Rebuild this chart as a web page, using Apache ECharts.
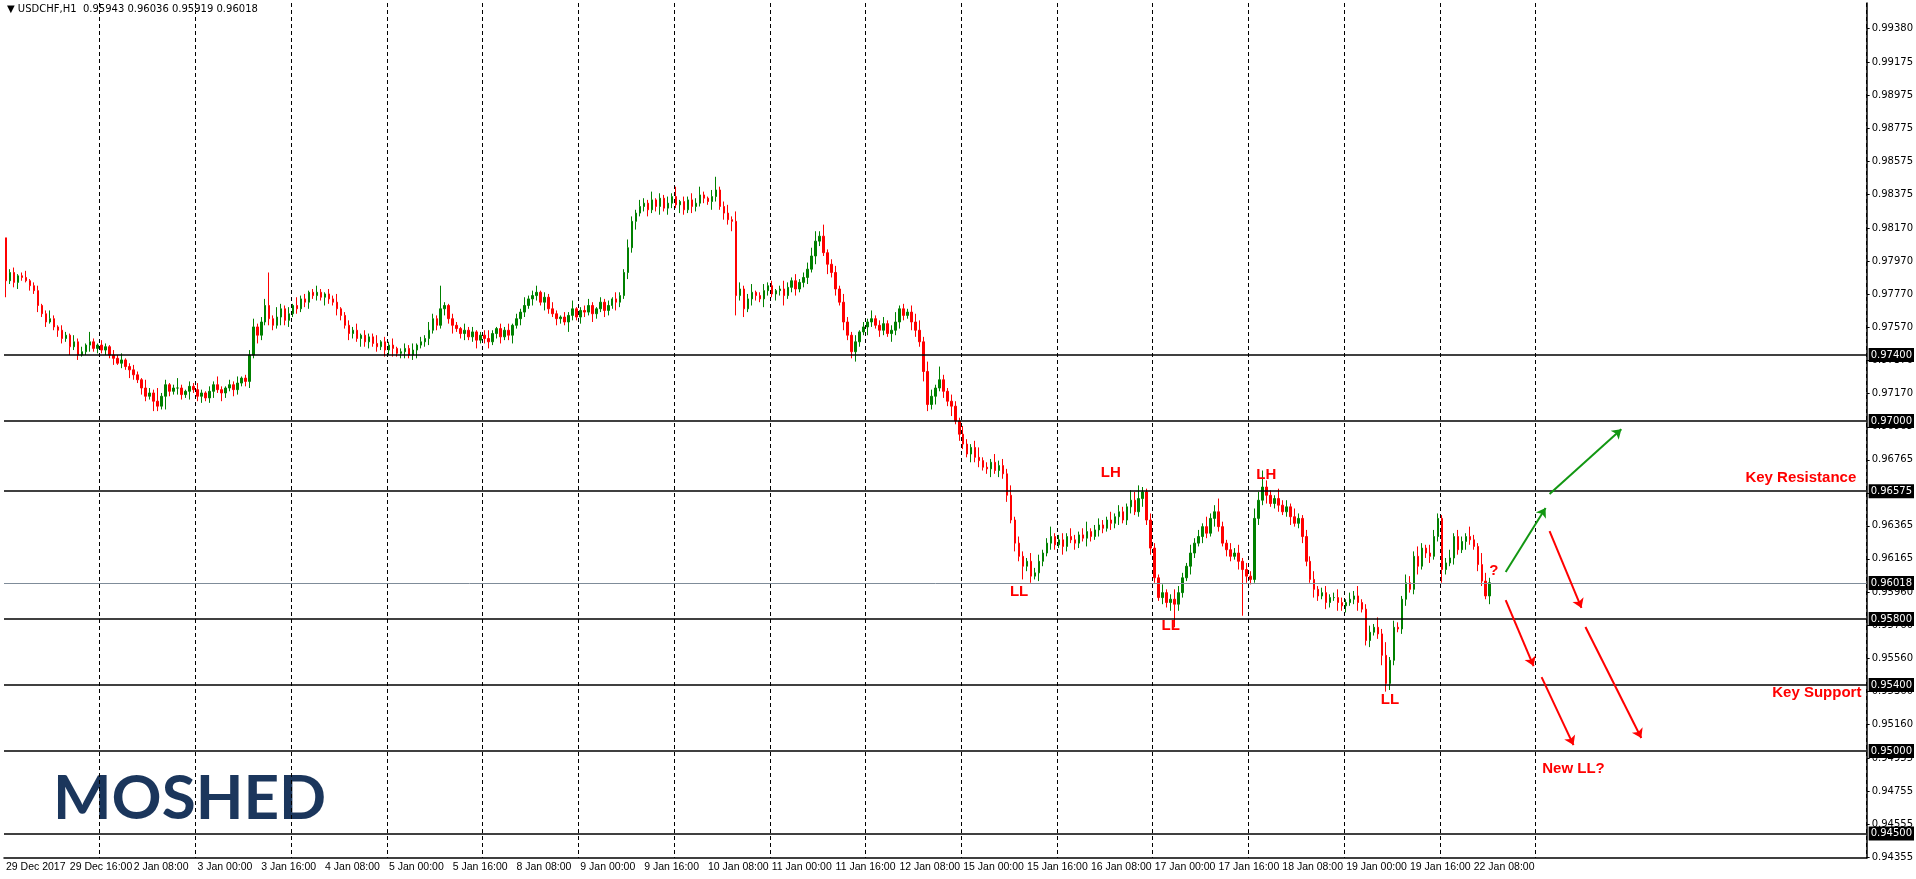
<!DOCTYPE html>
<html>
<head>
<meta charset="UTF-8">
<title>USDCHF H1</title>
<script src="https://cdn.jsdelivr.net/npm/echarts@6/dist/echarts.min.js"></script>
<style>
  html, body { margin: 0; padding: 0; background: #fff; }
  #chart { width: 1916px; height: 879px; }
</style>
</head>
<body>
<div id="chart"></div>
<script>
// closes in pips (0.0001), one per H1 candle
var firstOpen = 9811;
var closes = [
  9785,9790,9784,9788,9787,9785,9782, 9779,9770,9765,9760,9762,9757, 9755,9750,9752,9745,9748,9740,
  9742,9746,9748,9744,9746,9743,9745, 9740,9738,9735,9737,9733,9731, 9728,9725,9720,9715,9717,9712,
  9709,9715,9722,9718,9720,9720, 9716,9718,9721,9719,9715,9717, 9714,9718,9722,9719,9717,9720,
  9722,9719,9723,9726,9724,9740, 9757,9752,9760,9770,9762, 9758,9763,9768,9761,9765,
  9770,9768,9774,9772,9778,9776, 9778,9775,9777,9774,9772, 9768,9764,9758,9753,
  9755,9750,9752,9748,9751,9747, 9745,9748,9743,9746,9744,9741,9742, 9744,9740,9743,9746,9748,9750,
  9755,9762,9758,9768, 9770,9762,9758,9756,9753, 9755,9751,9754,9749,9752,9750,
  9748,9753,9756,9751,9755,9752, 9758,9762,9766,9770,9774,9776, 9778,9772,9775,9768,9765,9762,9763,
  9760,9764,9768,9763,9767,9766, 9770,9765,9768,9772,9767,9770, 9774,9772,9776,9790,9805,
  9821,9826,9830,9832, 9828,9834,9830,9835,9829,9832, 9836,9831,9833,9828,9834,9830,
  9832,9837,9835,9833,9836, 9840,9830,9826,9822,9821, 9776,9780,9768,9774,9778,9776,
  9774,9779,9782,9777,9779,9780, 9776,9781,9785,9780,9784,9787, 9792,9800,9809,9812,9802,9795,
  9790,9780,9772,9760,9752,9742, 9748,9754,9757, 9760,9762,9758,9755,9759,9753,9755,
  9760,9768,9764,9766, 9760,9755,9748,9730,9710, 9715,9720,9725,9718,9712,9709,
  9700,9692,9686, 9680,9684,9678,9676,9672,9671, 9675,9670,9673,9668, 9655,9640,9626,
  9618,9612,9615,9606,9608, 9615,9620,9626, 9630,9625,9628,9624,9630,9628,
  9626,9631,9629,9633,9630,9634, 9637,9635,9640,9638,9642,9645, 9640,9648,9652,9645,9653,
  9657,9640,9623, 9605,9593,9596,9590,9592,9589, 9596,9605,9612,9620,9626, 9630,9636,9632,9641,
  9645,9636,9626,9622,9618,9620, 9615,9610,9606,9604, 9641,9652,9660, 9655,9650,9653,9649,
  9645,9648,9642,9638,9641, 9630,9615,9604, 9598,9594,9596,9590,9593,
  9593,9590,9588,9590,9592,9594,9590,9586,9567,
  9572,9575,9571,9558,9541,9555,9575,9574,9592,9602,9598,9618,9612,9623,9620,9618,
  9630,9641,9610,9614,9617,9630,9622,9627,9630,9628,9624,9613,9603,9594,9602
];
// upper / lower wicks in pips
var wickUp = [
  0,2,3,1,2,4,1,2,3,1,2,5,2,1,3,2,1,4,2,3,1,6,2,1,3,
  2,1,3,2,4,1,2,3,2,1,5,3,2,8,2,3,1,2,6,2,1,3,2,4,2,
  1,3,2,5,2,1,3,2,4,1,2,3,5,2,3,4,20,2,6,3,2,4,1,5,2,
  3,1,2,4,2,1,3,2,5,1,2,3,2,4,1,3,2,2,5,1,3,2,4,1,2,
  3,2,4,1,3,2,5,3,2,14,2,1,3,2,1,4,2,3,1,2,3,5,2,1,3,
  2,4,1,3,2,5,2,3,4,1,3,2,4,2,1,3,2,5,1,2,3,4,2,1,3,
  2,3,1,4,2,2,5,3,2,4,3,2,5,1,3,2,4,2,6,1,3,2,4,3,5,
  2,1,4,8,2,3,5,2,6,4,2,3,5,1,2,4,2,3,1,2,5,3,2,4,2,
  3,4,5,6,3,7,2,3,4,2,5,3,2,4,1,3,2,5,2,3,4,2,3,6,2,
  3,2,4,5,6,3,6,4,2,8,3,2,4,3,2,5,3,2,4,6,2,3,2,5,3,
  4,3,6,2,4,3,2,5,3,4,2,3,6,2,3,4,2,5,3,2,4,6,2,3,4,
  3,2,5,2,4,3,2,6,5,8,3,2,4,3,2,5,2,3,6,4,3,2,5,3,4,
  2,6,3,4,8,3,2,4,3,5,2,4,3,6,5,10,4,3,2,6,3,4,2,5,3,
  2,4,3,5,2,3,4,2,3,5,3,2,4,3,6,2,3,4,2,6,3,8,2,4,3,
  2,5,4,3,6,3,2,5,4,3,2,3,5,2,4,3,2,6,3,2,7,5,3
];
var wickLow = [
  10,2,3,4,2,1,3,2,4,2,3,1,2,4,3,2,5,2,3,1,2,4,2,3,2,
  3,2,4,1,3,2,5,3,2,4,3,2,6,3,2,8,3,2,4,3,2,5,2,3,4,
  2,3,4,2,5,3,2,4,3,2,3,4,2,5,3,2,4,3,2,5,3,4,2,3,2,
  3,4,2,3,2,5,3,2,4,3,2,4,3,2,5,3,4,2,3,2,4,3,5,2,3,
  4,2,3,5,2,3,4,2,3,2,4,3,5,2,3,4,2,3,5,2,3,4,2,3,4,
  2,3,5,2,4,3,2,4,3,2,5,3,2,4,3,2,6,3,2,4,3,2,5,3,2,
  4,3,2,5,3,2,4,3,5,2,3,4,2,3,5,2,4,3,2,5,3,2,4,3,2,
  3,2,5,3,2,4,3,6,12,3,5,2,4,3,2,5,3,2,4,3,6,2,3,4,2,
  3,4,2,5,3,2,6,3,4,2,5,3,4,6,3,2,5,3,2,4,3,2,5,3,4,
  3,2,5,4,3,6,4,3,5,2,4,3,6,2,4,3,2,5,3,4,2,3,5,2,4,
  3,4,2,5,3,8,3,4,2,5,3,2,4,3,2,5,3,2,4,3,2,5,3,2,4,
  3,2,4,3,5,2,3,4,2,3,5,3,4,3,2,4,3,5,14,4,3,2,5,3,2,
  4,3,2,5,3,2,4,3,2,5,28,4,3,2,4,3,5,2,3,4,2,3,5,2,3,
  4,3,2,5,3,2,4,3,2,5,3,4,2,3,5,2,3,4,2,3,6,5,4,3,2,
  3,4,2,3,5,2,3,4,2,3,8,3,2,4,3,2,5,3,2,4,3,2,5
];
var dateLabels = ['29 Dec 2017','29 Dec 16:00','2 Jan 08:00','3 Jan 00:00','3 Jan 16:00','4 Jan 08:00',
  '5 Jan 00:00','5 Jan 16:00','8 Jan 08:00','9 Jan 00:00','9 Jan 16:00','10 Jan 08:00','11 Jan 00:00',
  '11 Jan 16:00','12 Jan 08:00','15 Jan 00:00','15 Jan 16:00','16 Jan 08:00','17 Jan 00:00','17 Jan 16:00',
  '18 Jan 08:00','19 Jan 00:00','19 Jan 16:00','22 Jan 08:00'];
var priceTicks = [0.99380,0.99175,0.98975,0.98775,0.98575,0.98375,0.98170,0.97970,0.97770,0.97570,0.97370,
  0.97170,0.96965,0.96765,0.96565,0.96365,0.96165,0.95960,0.95760,0.95560,0.95360,0.95160,0.94955,
  0.94755,0.94555,0.94355];
var levels = [0.97400,0.97000,0.96575,0.95800,0.95400,0.95000,0.94500];
var lastPrice = 0.96018;
var slotCount = 467;

// annotations: [category index, price]
var arrowsUp = [[[376,0.96085],[386,0.96473]],[[387,0.96558],[405,0.96950]]];
var arrowsDown = [[[376,0.95915],[383,0.95515]],[[385,0.95448],[393,0.95036]],
  [[387,0.96333],[395,0.95867]],[[396,0.95752],[410,0.95079]]];
var notes = [['LH',277,0.96685],['LH',316,0.96673],['LL',254,0.95964],['LL',292,0.95758],
  ['LL',347,0.95309],['?',373,0.9609],['Key Resistance',450,0.96655],['Key Support',454,0.95352],
  ['New LL?',393,0.94891]];

var cats = [];
for (var i = 0; i < slotCount; i++) cats.push(String(i));

var ohlc = [];
for (var i = 0; i < closes.length; i++) {
  var o = i === 0 ? firstOpen : closes[i - 1];
  var c = closes[i];
  ohlc.push([o / 1e4, c / 1e4, (Math.min(o, c) - wickLow[i]) / 1e4, (Math.max(o, c) + wickUp[i]) / 1e4]);
}

var levelLines = levels.map(function (v) {
  return { yAxis: v, lineStyle: { color: '#000', width: 1.5, type: 'solid' } };
});
levelLines.push({ yAxis: lastPrice, lineStyle: { color: '#7f8c99', width: 1, type: 'solid' } });

function arrowItems(list, color) {
  return list.map(function (a) {
    return [
      { coord: [String(a[0][0]), a[0][1]], symbol: 'none', lineStyle: { color: color, width: 2, type: 'solid' } },
      { coord: [String(a[1][0]), a[1][1]], symbol: 'arrow' }
    ];
  });
}

var chart = echarts.init(document.getElementById('chart'));
chart.setOption({
  animation: false,
  backgroundColor: '#fff',
  textStyle: { fontFamily: 'Liberation Sans, DejaVu Sans, sans-serif' },
  graphic: [
    { type: 'text', left: 7, top: 4, style: { text: '\u25BC USDCHF,H1  0.95943 0.96036 0.95919 0.96018', fontSize: 10, fill: '#000', fontFamily: 'DejaVu Sans' } },
    { type: 'text', left: 53, top: 768, style: { text: 'MOSHED', fontSize: 62, fontWeight: 'bold', fill: '#1b365c', fontFamily: 'Lato, Inter, sans-serif' } }
  ],
  grid: { left: 4, right: 43, top: 3, bottom: 21 },
  xAxis: {
    type: 'category',
    data: cats,
    boundaryGap: true,
    axisLine: { lineStyle: { color: '#000', width: 1.5 } },
    axisTick: { alignWithLabel: true, length: 4, lineStyle: { color: '#000' },
      interval: function (i) { return i % 16 === 0 && i / 16 < dateLabels.length; } },
    axisLabel: {
      interval: function (i) { return i % 16 === 0 && i / 16 < dateLabels.length; },
      formatter: function (v, i) { return dateLabels[i / 16] || ''; },
      align: 'left', color: '#000', fontSize: 10.5, margin: 4, fontFamily: 'Liberation Sans'
    },
    splitLine: { show: true, interval: function (i) { return i > 0 && i % 24 === 0 && i <= 384; },
      lineStyle: { color: '#000', type: [4, 3], width: 1 } }
  },
  yAxis: {
    type: 'value', position: 'right', min: 0.94352, max: 0.99533, scale: true,
    axisLine: { show: true, lineStyle: { color: '#000', width: 1.5 } },
    axisTick: { show: true, length: 3, customValues: priceTicks, lineStyle: { color: '#000' } },
    axisLabel: { customValues: priceTicks, formatter: function (v) { return v.toFixed(5); },
      color: '#000', fontSize: 10, margin: 5, fontFamily: 'DejaVu Sans' },
    splitLine: { show: false }
  },
  series: [
    {
      type: 'candlestick',
      data: ohlc,
      barMaxWidth: 3,
      itemStyle: { color: '#008000', color0: '#ff0000', borderColor: '#008000', borderColor0: '#ff0000', borderWidth: 1 },
      markLine: {
        silent: true, symbol: 'none', animation: false, precision: 5,
        label: { show: true, position: 'end', distance: 2, formatter: function (p) { return Number(p.value).toFixed(5); },
          backgroundColor: '#000', color: '#fff', fontSize: 10, padding: [2, 2], fontFamily: 'DejaVu Sans' },
        data: levelLines
      },
      markPoint: {
        silent: true, symbolSize: 0, animation: false,
        label: { show: true, color: '#ff0000', fontWeight: 'bold', fontSize: 15 },
        data: notes.map(function (n) {
          return { coord: [String(n[1]), n[2]], value: n[0], label: { formatter: n[0] } };
        })
      }
    },
    {
      type: 'line', data: [],
      markLine: {
        silent: true, animation: false, symbolSize: 9, precision: 5,
        label: { show: false },
        data: arrowItems(arrowsUp, '#129712').concat(arrowItems(arrowsDown, '#ff0000'))
      }
    }
  ]
});
</script>
</body>
</html>
